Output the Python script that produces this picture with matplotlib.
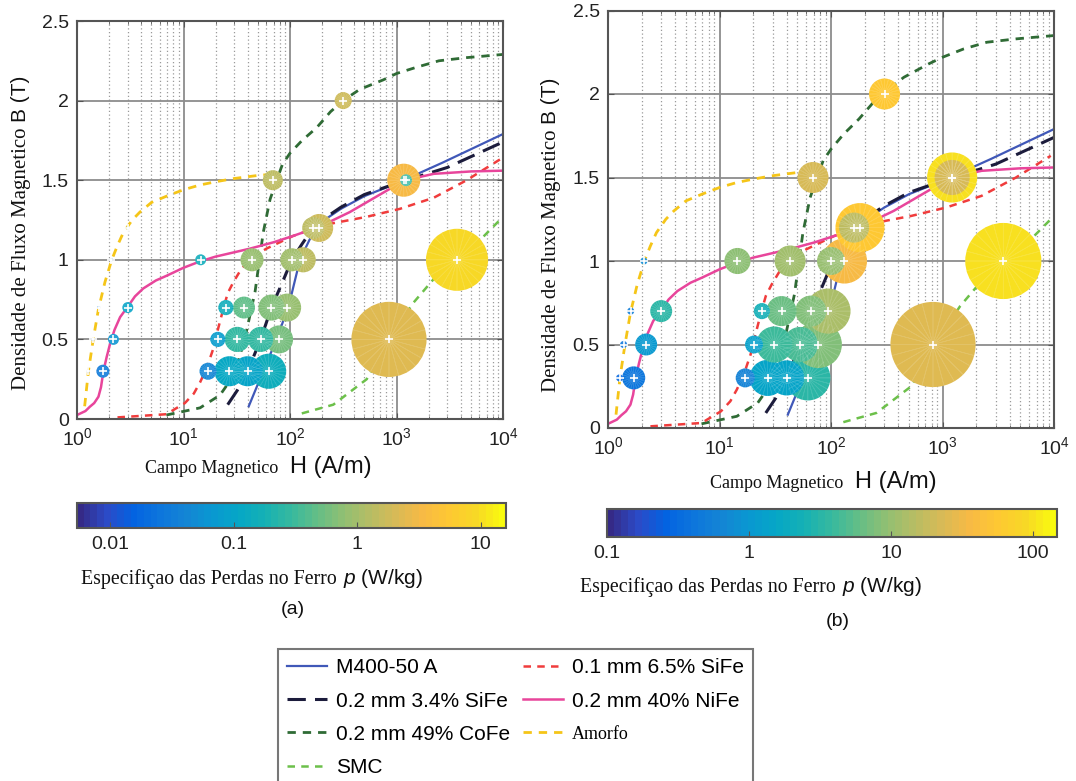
import numpy as np
import matplotlib.pyplot as plt
from matplotlib.colors import LinearSegmentedColormap, LogNorm
from matplotlib.cm import ScalarMappable
from matplotlib.lines import Line2D
import matplotlib.ticker as mticker

plt.rcParams['font.family'] = ['Liberation Sans', 'DejaVu Sans']
plt.rcParams['mathtext.fontset'] = 'custom'
plt.rcParams['mathtext.rm'] = 'Liberation Sans'
plt.rcParams['mathtext.it'] = 'Liberation Sans:italic'
SERIF = ['Liberation Serif', 'DejaVu Serif']

# ---- curvas B(H) ----
m400_H = [41, 50, 60, 75, 90, 104, 124, 164, 200, 300, 500, 1000, 2700, 10000]
m400_B = [0.08, 0.22, 0.35, 0.5, 0.65, 0.79, 1.0, 1.17, 1.24, 1.32, 1.40, 1.48, 1.61, 1.79]

sife34_H = [26, 32, 40, 53, 67, 85, 104, 130, 165, 200, 300, 500, 1000, 3000, 10000]
sife34_B = [0.09, 0.18, 0.3, 0.5, 0.7, 0.86, 1.0, 1.1, 1.2, 1.25, 1.33, 1.41, 1.48, 1.58, 1.74]

sife65_H = [2.4, 6.9, 10.3, 12.5, 14.3, 16.5, 19, 21, 23.6, 26, 29.4, 34, 39, 48, 60, 80,
            107, 160, 255, 525, 1075, 2240, 4560, 9350]
sife65_B = [0.01, 0.03, 0.1, 0.16, 0.23, 0.32, 0.44, 0.56, 0.69, 0.79, 0.86, 0.93, 0.98, 1.03,
            1.07, 1.11, 1.15, 1.19, 1.23, 1.27, 1.32, 1.39, 1.5, 1.63]

nife_H = [1.0, 1.2, 1.32, 1.45, 1.59, 1.68, 1.77, 1.9, 2.04, 2.25, 2.54, 3.03, 3.5, 4.19,
          5.5, 6.95, 10, 14.3, 20, 42, 70, 107, 192, 365, 700, 1200, 2240, 5000, 10000]
nife_B = [0.025, 0.05, 0.077, 0.1, 0.14, 0.2, 0.3, 0.39, 0.47, 0.56, 0.64, 0.71, 0.77, 0.82,
          0.87, 0.9, 0.95, 0.99, 1.02, 1.07, 1.11, 1.15, 1.21, 1.3, 1.41, 1.5, 1.54, 1.555, 1.56]

cofe_H = [6.9, 14.3, 22, 29.4, 34, 39, 47, 56, 65, 75, 85, 100, 130, 178, 240, 316, 450,
          750, 1000, 1550, 2500, 4560, 10000]
cofe_B = [0.025, 0.07, 0.15, 0.27, 0.4, 0.55, 0.8, 1.17, 1.38, 1.5, 1.6, 1.67, 1.75, 1.83,
          1.93, 2.0, 2.07, 2.13, 2.17, 2.21, 2.25, 2.27, 2.29]
cofe_B_b = [0.025, 0.07, 0.15, 0.27, 0.4, 0.55, 0.8, 1.17, 1.38, 1.5, 1.6, 1.67, 1.76, 1.85,
            1.95, 2.02, 2.1, 2.18, 2.22, 2.27, 2.31, 2.33, 2.35]

amorfo_H = [1.18, 1.28, 1.42, 1.59, 1.83, 2.12, 2.4, 2.72, 3.3, 3.9, 5, 6.95, 10, 14.3, 20,
            29.4, 50, 77]
amorfo_B = [0.08, 0.3, 0.5, 0.69, 0.86, 1.0, 1.09, 1.17, 1.25, 1.3, 1.36, 1.4, 1.44, 1.47,
            1.49, 1.51, 1.53, 1.54]

smc_H = [129, 255, 525, 850, 1440, 2240, 3680, 6000, 10000]
smc_B = [0.035, 0.09, 0.25, 0.5, 0.73, 0.88, 1.0, 1.12, 1.27]

# ---- pontos medidos (a): SMC, M400, 3.4% SiFe, CoFe, 6.5% SiFe, NiFe, Amorfo ----
a_H = [850, 3700,
       63, 79, 94, 133, 188, 1170,
       40, 53, 67, 104, 165,
       27, 32, 37, 44, 69, 316,
       17, 21, 25,
       1.75, 2.2, 3.0, 14.5, 1230,
       1.27, 1.41, 1.6, 2.1, 3.0]
a_B = [0.5, 1.0,
       0.3, 0.5, 0.7, 1.0, 1.2, 1.5,
       0.3, 0.5, 0.7, 1.0, 1.2,
       0.3, 0.5, 0.7, 1.0, 1.5, 2.0,
       0.3, 0.5, 0.7,
       0.3, 0.5, 0.7, 1.0, 1.5,
       0.3, 0.5, 0.7, 1.0, 1.2]
a_p = [2.35, 9.5,
       0.155, 0.56, 0.83, 1.45, 1.7, 3.2,
       0.1, 0.29, 0.65, 0.97, 1.45,
       0.11, 0.29, 0.44, 0.83, 1.45, 1.85,
       0.04, 0.075, 0.155,
       0.031, 0.059, 0.096, 0.155, 0.29,
       0.012, 0.02, 0.03, 0.05, 0.07]
a_q = [56.3, 38.4,
       12.3, 7.8, 7.8, 6.3, 7.8, 10.9,
       9.0, 6.3, 6.8, 5.3, 4.8,
       9.0, 6.3, 4.8, 5.3, 4.0, 2.9,
       2.9, 2.3, 2.3,
       1.7, 1.2, 1.2, 1.2, 1.4,
       0.09, 0.09, 0.09, 0.09, 0.09]

# ---- pontos medidos (b) ----
b_H = [822, 3510,
       62, 77, 94, 132, 182, 1220,
       40, 53, 66, 100, 161,
       27, 31, 36, 43, 69, 302,
       17, 20.4, 24,
       1.7, 2.2, 3.0, 14.5, 1220,
       1.27, 1.38, 1.6, 2.1]
b_B = [0.5, 1.0,
       0.3, 0.5, 0.7, 1.0, 1.2, 1.5,
       0.3, 0.5, 0.7, 1.0, 1.2,
       0.3, 0.5, 0.7, 1.0, 1.5, 2.0,
       0.3, 0.5, 0.7,
       0.3, 0.5, 0.7, 1.0, 1.5,
       0.3, 0.5, 0.7, 1.0]
b_p = [24, 100,
       3.1, 8, 12.5, 35, 54, 100,
       1.5, 4.5, 8, 10, 16.7,
       1.5, 3.9, 6.5, 11.6, 22, 58,
       0.62, 1.3, 2.3,
       0.43, 1.04, 3.1, 9.3, 22,
       0.3, 0.4, 0.5, 0.7]
b_q = [72.3, 57.8,
       20.3, 22.1, 20.3, 20.3, 24.0, 25.0,
       12.3, 12.3, 9.6, 7.8, 9.0,
       13.0, 13.0, 9.0, 9.6, 9.6, 9.6,
       3.6, 3.2, 2.6,
       5.3, 4.8, 4.8, 6.8, 12.3,
       0.5, 0.5, 0.5, 0.5]

cb_a_ticks = [0.01, 0.1, 1, 10]
cb_a_labels = ['0.01', '0.1', '1', '10']
cb_b_ticks = [0.1, 1, 10, 100]
cb_b_labels = ['0.1', '1', '10', '100']
y_ticks = [0, 0.5, 1, 1.5, 2, 2.5]
y_labels = ['0', '0.5', '1', '1.5', '2', '2.5']

# parula
parula = LinearSegmentedColormap.from_list('parula', [
    (0.2081, 0.1663, 0.5292), (0.1707, 0.2919, 0.7792), (0.0117, 0.3875, 0.8820),
    (0.0498, 0.4586, 0.8641), (0.0793, 0.5200, 0.8312), (0.0343, 0.5966, 0.8199),
    (0.0228, 0.6535, 0.7768), (0.0843, 0.6928, 0.7062), (0.2178, 0.7250, 0.6193),
    (0.3953, 0.7459, 0.5244), (0.5709, 0.7485, 0.4494), (0.7184, 0.7411, 0.3905),
    (0.8507, 0.7299, 0.3360), (0.9739, 0.7314, 0.2666), (0.9955, 0.7861, 0.1967),
    (0.9697, 0.8481, 0.1475), (0.9763, 0.9831, 0.0538)], N=64)

W, H = 1076, 781
fig = plt.figure(figsize=(W / 100, H / 100), dpi=100)


def fx(x):
    return x / W


def fy(y):
    return 1 - y / H


def rect(x0, y0, x1, y1):
    return [fx(x0), fy(y1), fx(x1) - fx(x0), fy(y0) - fy(y1)]


estilos = {
    'M400-50 A': dict(color='#4058b8', lw=1.6, ls='-'),
    '0.2 mm 3.4% SiFe': dict(color='#1c1c3c', lw=2.2, ls=(0, (6, 3))),
    '0.2 mm 49% CoFe': dict(color='#2f6b35', lw=2.0, ls=(0, (3, 2.5))),
    'SMC': dict(color='#6cc04a', lw=1.8, ls=(0, (3, 2.5))),
    '0.1 mm 6.5% SiFe': dict(color='#f03c3c', lw=1.8, ls=(0, (3, 2.5))),
    '0.2 mm 40% NiFe': dict(color='#e8459b', lw=1.8, ls='-'),
    'Amorfo': dict(color='#f5c518', lw=2.0, ls=(0, (3, 2.5))),
}


def painel(ax, cofe_y, bH, bB, bp, bq, norm):
    curvas = [('M400-50 A', m400_H, m400_B), ('0.2 mm 3.4% SiFe', sife34_H, sife34_B),
              ('0.2 mm 49% CoFe', cofe_H, cofe_y), ('SMC', smc_H, smc_B),
              ('0.1 mm 6.5% SiFe', sife65_H, sife65_B), ('0.2 mm 40% NiFe', nife_H, nife_B),
              ('Amorfo', amorfo_H, amorfo_B)]
    for nome, xs, ys in curvas:
        ax.plot(xs, ys, zorder=2, **estilos[nome])
    area = np.array(bq) * 52
    ax.scatter(bH, bB, s=area, c=bp, cmap=parula, norm=norm, edgecolors='none', zorder=3)
    ax.scatter(bH, bB, s=area, marker=(24, 2, 0), c='white', alpha=0.12, linewidths=0.5, zorder=3)
    ax.scatter(bH, bB, s=28, marker='+', c='white', linewidths=1.2, zorder=4)
    ax.set_xscale('log')
    ax.set_xlim(1, 1e4)
    ax.set_ylim(0, 2.5)
    ax.set_yticks(y_ticks, y_labels)
    ax.xaxis.set_major_locator(mticker.LogLocator(base=10, numticks=10))
    ax.xaxis.set_minor_locator(mticker.LogLocator(base=10, subs=np.arange(2, 10), numticks=10))
    ax.xaxis.set_minor_formatter(mticker.NullFormatter())
    ax.grid(True, which='major', color='#8c8c8c', lw=1.3)
    ax.grid(True, which='minor', axis='x', color='#9a9a9a', lw=0.9, ls=(0, (1, 2)))
    ax.set_axisbelow(True)
    ax.tick_params(which='both', direction='in', top=True, right=True, color='#555555',
                   labelsize=14, labelcolor='#222222', pad=6)
    ax.tick_params(which='major', length=4)
    ax.tick_params(which='minor', length=2)
    for sp in ax.spines.values():
        sp.set_color('#555555')
        sp.set_linewidth(1.5)


norm_a = LogNorm(0.0054, 16)
norm_b = LogNorm(0.1, 148)

ax_a = fig.add_axes(rect(77, 21, 503, 419))
painel(ax_a, cofe_B, a_H, a_B, a_p, a_q, norm_a)
ax_b = fig.add_axes(rect(608, 10.5, 1054, 428))
painel(ax_b, cofe_B_b, b_H, b_B, b_p, b_q, norm_b)


def barra(r, norm, ticks, labels):
    cax = fig.add_axes(r)
    cb = fig.colorbar(ScalarMappable(norm=norm, cmap=parula), cax=cax, orientation='horizontal')
    cb.set_ticks(ticks, labels=labels)
    cb.ax.minorticks_off()
    cb.ax.tick_params(direction='in', length=4, color='#555555', labelsize=14,
                      labelcolor='#222222', pad=6)
    cb.outline.set_edgecolor('#555555')
    cb.outline.set_linewidth(1.5)


barra(rect(77, 503, 506, 528), norm_a, cb_a_ticks, cb_a_labels)
barra(rect(607, 509, 1057, 537), norm_b, cb_b_ticks, cb_b_labels)


def rotulo(x, y, serif_txt, sans_txt, fs_serif, fs_sans, gap=5, rot=0):
    if rot == 0:
        fig.text(fx(x - gap / 2), fy(y), serif_txt, family=SERIF, fontsize=fs_serif,
                 ha='right', va='baseline', color='#111111')
        fig.text(fx(x + gap / 2), fy(y), sans_txt, fontsize=fs_sans,
                 ha='left', va='baseline', color='#111111')
    else:
        fig.text(fx(x), fy(y + gap / 2), serif_txt, family=SERIF, fontsize=fs_serif,
                 ha='right', va='baseline', rotation=90, rotation_mode='anchor', color='#111111')
        fig.text(fx(x), fy(y - gap / 2), sans_txt, fontsize=fs_sans,
                 ha='left', va='baseline', rotation=90, rotation_mode='anchor', color='#111111')


rotulo(26, 125, 'Densidade de Fluxo Magnetico', 'B (T)', 15, 15, gap=5, rot=90)
rotulo(556, 127, 'Densidade de Fluxo Magnetico', 'B (T)', 15, 15, gap=5, rot=90)
rotulo(284, 473, 'Campo Magnetico', 'H (A/m)', 13, 17, gap=12)
rotulo(849, 488, 'Campo Magnetico', 'H (A/m)', 13, 17, gap=12)
rotulo(340, 584, 'Especifiçao das Perdas no Ferro', r'$\it{p}$ (W/kg)', 14.3, 15, gap=6)
rotulo(839, 592, 'Especifiçao das Perdas no Ferro', r'$\it{p}$ (W/kg)', 14.3, 15, gap=6)
fig.text(fx(293), fy(610), '(a)', fontsize=14, ha='center', va='center', color='#111111')
fig.text(fx(838), fy(622), '(b)', fontsize=14, ha='center', va='center', color='#111111')

# legenda em duas colunas, preenchida por linhas
ordem = ['M400-50 A', '0.2 mm 3.4% SiFe', '0.2 mm 49% CoFe', 'SMC',
         '0.1 mm 6.5% SiFe', '0.2 mm 40% NiFe', 'Amorfo']
handles = [Line2D([], [], **estilos[n]) for n in ordem]
leg = fig.legend(handles, ordem, ncol=2, loc='upper left', bbox_to_anchor=(fx(278), fy(649)),
                 fontsize=15, frameon=True, fancybox=False, edgecolor='#555555',
                 borderaxespad=0, borderpad=0.45, handlelength=1.9, handletextpad=0.45,
                 columnspacing=0.6, labelspacing=0.68)
leg.get_frame().set_linewidth(1.5)
for t in leg.get_texts():
    if t.get_text() == 'Amorfo':
        t.set_fontfamily(SERIF)
        t.set_fontsize(13)

fig.savefig('out.png', dpi=100)
